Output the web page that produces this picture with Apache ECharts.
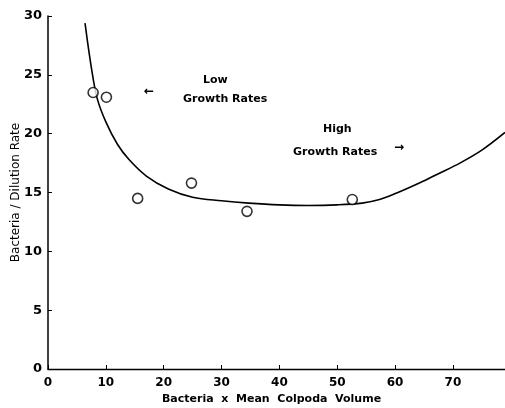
<!DOCTYPE html>
<html><head><meta charset="utf-8">
<script src="https://cdn.jsdelivr.net/npm/echarts@6/dist/echarts.min.js"></script>
<style>html,body{margin:0;padding:0;background:#fff}#c{width:505px;height:408px}</style>
</head><body><div id="c"></div>
<script>
var pointX = [7.8, 10.1, 15.5, 24.8, 34.4, 52.6];
var pointY = [23.5, 23.1, 14.5, 15.8, 13.4, 14.4];
var curveX = [6.4, 7.5, 8.5, 10, 12, 14, 17, 20.8, 25, 30, 34.7, 40, 45, 50, 54.3, 57.3, 60.5, 64.2, 67.5, 71.2, 75, 79];
var curveY = [29.4, 25.6, 23.0, 21.0, 19.1, 17.8, 16.4, 15.3, 14.6, 14.3, 14.1, 13.95, 13.9, 13.95, 14.1, 14.4, 15.0, 15.8, 16.6, 17.5, 18.6, 20.1];
var xTicks = [0, 10, 20, 30, 40, 50, 60, 70];
var yTicks = [0, 5, 10, 15, 20, 25, 30];

var font = 'DejaVu Sans';
var chart = echarts.init(document.getElementById('c'));
var pts = pointX.map(function (x, i) { return [x, pointY[i]]; });
var crv = curveX.map(function (x, i) { return [x, curveY[i]]; });
chart.setOption({
  animation: false,
  grid: { left: 48, right: 0, top: 16, bottom: 39, containLabel: false, outerBoundsMode: 'none' },
  xAxis: {
    type: 'value', min: 0, max: 79, interval: 10,
    axisLine: { show: true, lineStyle: { color: '#000', width: 1.3 } },
    axisTick: { show: true, inside: true, length: 4, lineStyle: { color: '#000' } },
    splitLine: { show: false },
    axisLabel: { color: '#000', fontFamily: font, fontWeight: 'bold', fontSize: 12, margin: 8,
      formatter: function (v) { return xTicks.indexOf(v) >= 0 ? String(v) : ''; } },
    name: 'Bacteria  x  Mean  Colpoda  Volume', nameLocation: 'middle', nameGap: 25, nameMoveOverlap: false,
    nameTextStyle: { color: '#000', fontFamily: font, fontWeight: 'bold', fontSize: 11, padding: [0, 10, 0, 0] }
  },
  yAxis: {
    type: 'value', min: 0, max: 30, interval: 5,
    axisLine: { show: true, lineStyle: { color: '#000', width: 1.5 } },
    axisTick: { show: true, inside: true, length: 4, lineStyle: { color: '#000' } },
    splitLine: { show: false },
    axisLabel: { color: '#000', fontFamily: font, fontWeight: 'bold', fontSize: 13, margin: 6,
      formatter: function (v) { return yTicks.indexOf(v) >= 0 ? String(v) : ''; } },
    name: 'Bacteria / Dilution Rate', nameLocation: 'middle', nameGap: 26, nameMoveOverlap: false,
    nameTextStyle: { color: '#000', fontFamily: font, fontSize: 12 }
  },
  series: [
    { type: 'line', data: crv, smooth: 0.35, showSymbol: false, symbol: 'none',
      lineStyle: { color: '#000', width: 1.6 }, z: 2 },
    { type: 'scatter', data: pts, symbol: 'circle', symbolSize: 10,
      itemStyle: { color: '#fff', borderColor: '#000', borderWidth: 1.6 }, z: 3 }
  ],
  graphic: [
    { type: 'text', left: 203, top: 75, style: { text: 'Low', font: 'bold 11px ' + font, fill: '#000' } },
    { type: 'text', left: 183, top: 94, style: { text: 'Growth Rates', font: 'bold 11px ' + font, fill: '#000' } },
    { type: 'text', left: 144, top: 86, style: { text: '\u2190', font: 'bold 12px ' + font, fill: '#000' } },
    { type: 'text', left: 323, top: 124, style: { text: 'High', font: 'bold 11px ' + font, fill: '#000' } },
    { type: 'text', left: 293, top: 147, style: { text: 'Growth Rates', font: 'bold 11px ' + font, fill: '#000' } },
    { type: 'text', left: 394, top: 142, style: { text: '\u2192', font: 'bold 12px ' + font, fill: '#000' } }
  ]
});
</script></body></html>
